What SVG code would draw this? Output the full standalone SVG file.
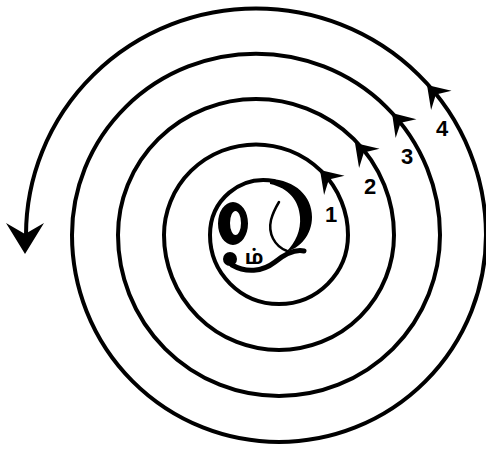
<svg xmlns="http://www.w3.org/2000/svg" width="486" height="451" viewBox="0 0 486 451">
<defs>
<style>
.sp{fill:none;stroke:#000;stroke-width:4;stroke-linecap:round;stroke-linejoin:round}
.ah{fill:#000}
.num{font-family:"Liberation Sans",Arial,sans-serif;font-weight:bold;font-size:22px;fill:#000;text-anchor:middle}
.ta{font-family:"Noto Sans Tamil","Lohit Tamil","Noto Sans",sans-serif;font-size:20px;font-weight:bold;fill:#000;text-anchor:middle}
</style>
<path id="head" d="M0 0 L-21 -14 L-13 0 L-21 14 Z"/>
</defs>
<rect width="486" height="451" fill="#fff"/>
<g id="connectors">
<path class="sp" d="M274 181 C240 175 210 200 210 235 A69 69 0 0 0 348 235 A92 90.62 0 0 0 164 235 A115 115 0 0 0 394 235 A138 135.93 0 0 0 118 235 A161 161 0 0 0 440 235 A184 181.24 0 0 0 72 235 A207 207 0 0 0 486 235 A230 226.55 0 0 0 26 235"/>
<use href="#head" class="ah" transform="translate(320,170) rotate(-133)"/>
<use href="#head" class="ah" transform="translate(355,143) rotate(-133)"/>
<use href="#head" class="ah" transform="translate(392,113) rotate(-132)"/>
<use href="#head" class="ah" transform="translate(427,85) rotate(-133)"/>
<path class="ah" d="M25 254 L6 223 L25 234 L44 223 Z"/>
</g>
<g id="om">
<path fill="#000" d="M270 179 C295 180 312 196 312 217 C312 235 300 248 286 252 C296 242 301 230 300 217 C299 201 289 188 270 184 Z"/>
<path fill="none" stroke="#000" stroke-width="2.5" stroke-linecap="round" d="M287 251 C274 246 268 233 271 220 C273 212 276 207 279 202"/>
<path fill="#000" fill-rule="evenodd" d="M233 202 A15 21.5 0 1 0 233 245 A15 21.5 0 1 0 233 202 Z M235.5 211 A5.5 12 0 1 1 235.5 235 A5.5 12 0 1 1 235.5 211 Z"/>
<circle cx="230" cy="259" r="7" fill="#000"/>
<path fill="none" stroke="#000" stroke-width="5" stroke-linecap="round" d="M232 265 C246 273 262 272 275 262 C285 254 295 249 304 251"/>
<text class="ta" x="254" y="264">ம்</text>
</g>
<g id="labels">
<text class="num" x="331" y="222">1</text>
<text class="num" x="370" y="194">2</text>
<text class="num" x="407" y="164">3</text>
<text class="num" x="442" y="136">4</text>
</g>
</svg>
